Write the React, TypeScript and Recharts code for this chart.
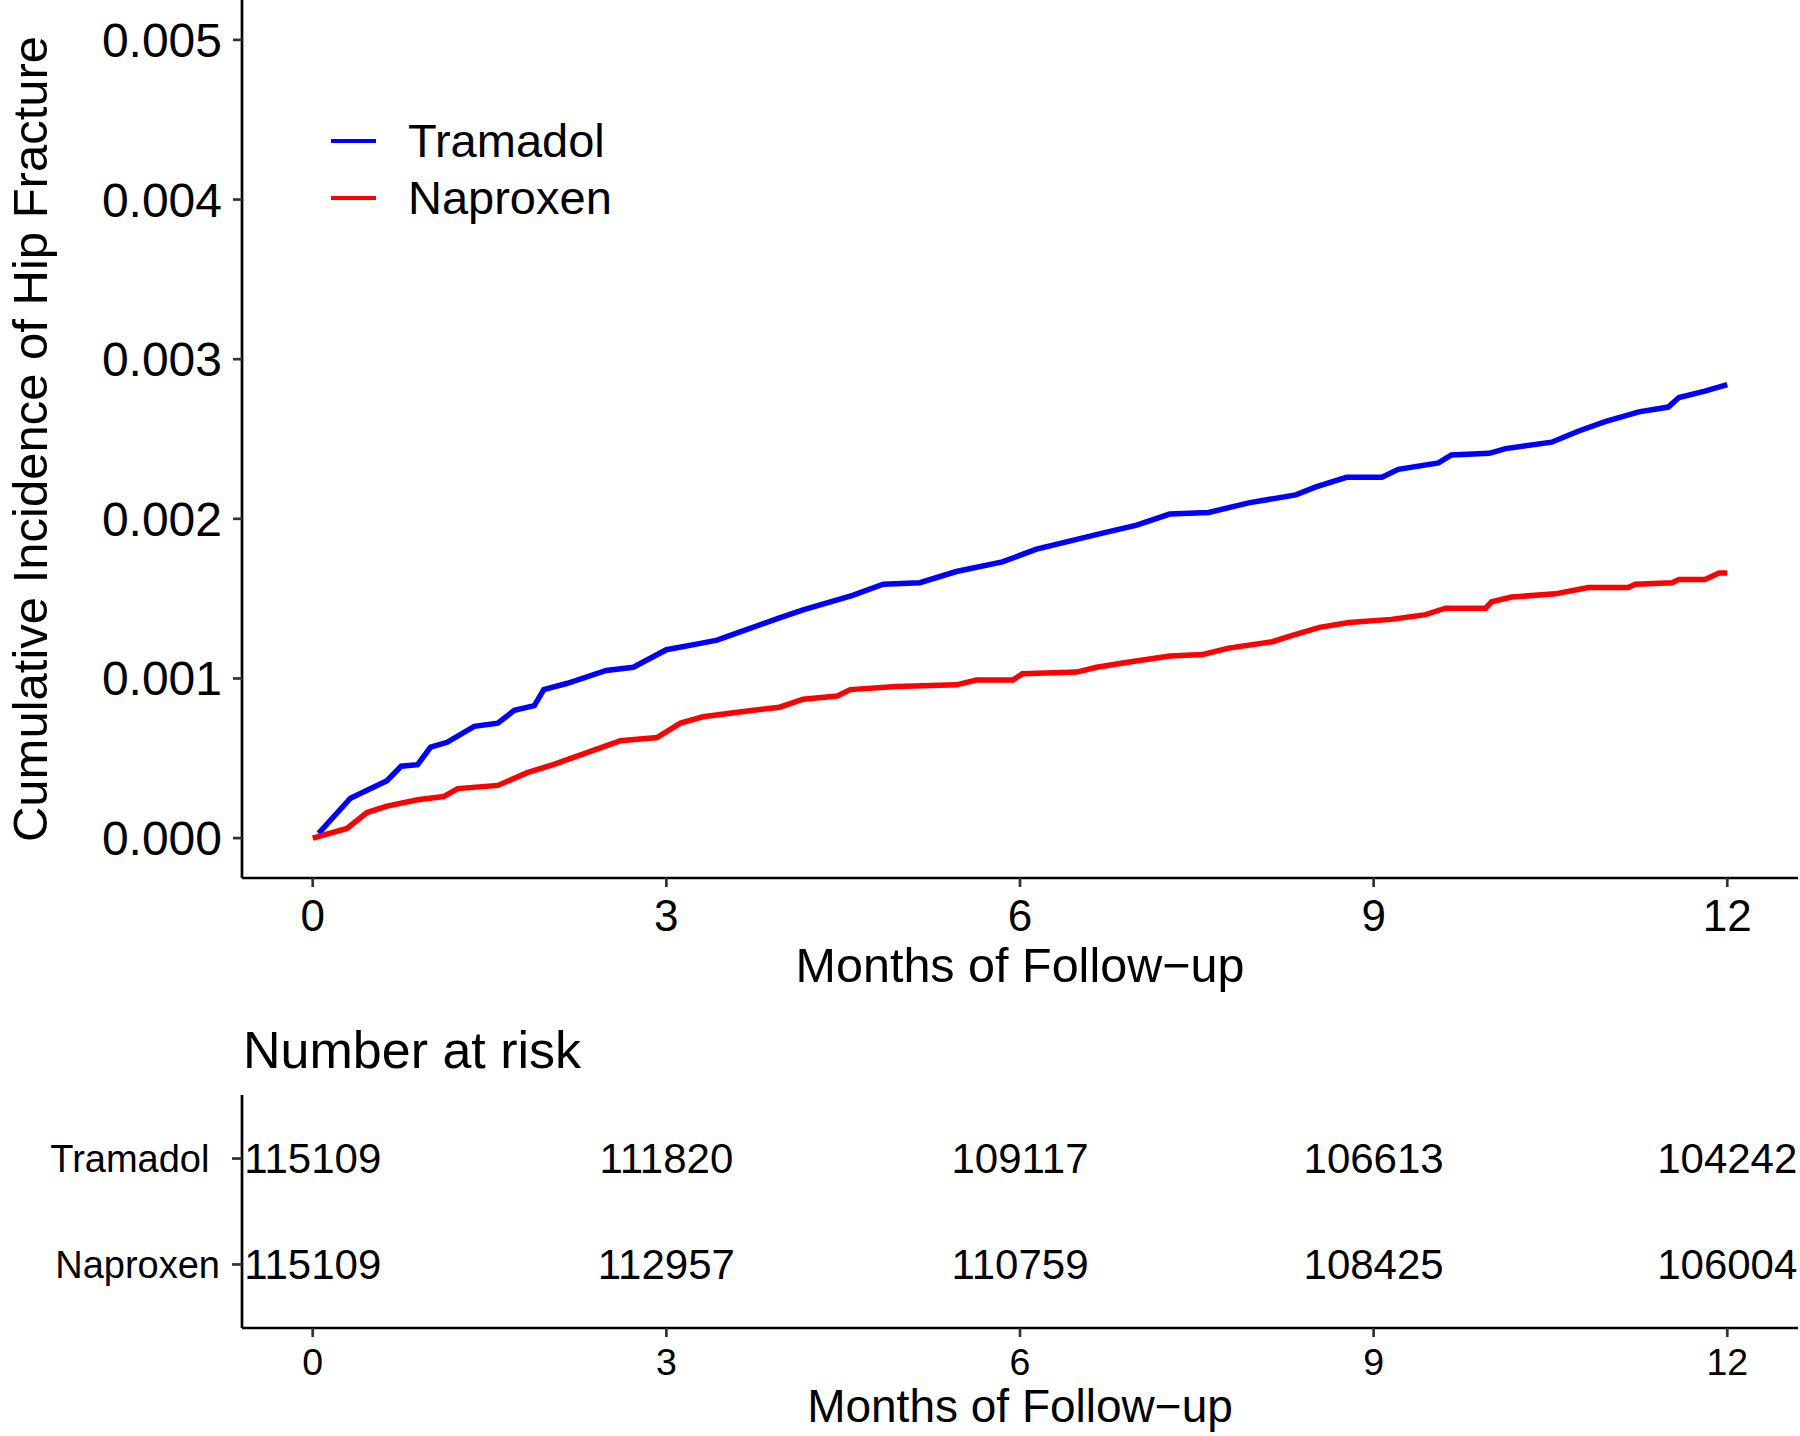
import React from "react"
import { LineChart, Line, XAxis, YAxis, Legend, ScatterChart, Scatter } from "recharts"

const FONT = '"Liberation Sans", Arial, Helvetica, sans-serif'

const monthTicks = [0, 3, 6, 9, 12]
const incidenceTicks = [0, 0.001, 0.002, 0.003, 0.004, 0.005]
const seriesOrder = ["Tramadol", "Naproxen"]

// cumulative incidence
const tramadolMonths = [
  0.05, 0.32, 0.63, 0.75, 0.89, 1.0, 1.14, 1.37, 1.57, 1.71, 1.88, 1.96, 2.16, 2.49, 2.72, 3.0, 3.29, 3.43, 3.62,
  3.96, 4.16, 4.58, 4.84, 5.15, 5.46, 5.85, 6.14, 6.42, 6.7, 6.99, 7.27, 7.6, 7.94, 8.34, 8.51, 8.77, 9.07, 9.21,
  9.55, 9.66, 9.98, 10.12, 10.51, 10.74, 10.97, 11.25, 11.5, 11.59, 11.81, 12.0,
]
const tramadolIncidence = [
  0.00003, 0.00025, 0.00036, 0.00045, 0.00046, 0.00057, 0.0006, 0.0007, 0.00072, 0.0008, 0.00083, 0.00093,
  0.00097, 0.00105, 0.00107, 0.00118, 0.00122, 0.00124, 0.00129, 0.00138, 0.00143, 0.00152, 0.00159, 0.0016,
  0.00167, 0.00173, 0.00181, 0.00186, 0.00191, 0.00196, 0.00203, 0.00204, 0.0021, 0.00215, 0.0022, 0.00226,
  0.00226, 0.00231, 0.00235, 0.0024, 0.00241, 0.00244, 0.00248, 0.00255, 0.00261, 0.00267, 0.0027, 0.00276,
  0.0028, 0.00284,
]

const naproxenMonths = [
  0, 0.29, 0.46, 0.63, 0.89, 1.11, 1.23, 1.57, 1.82, 2.04, 2.38, 2.61, 2.92, 3.12, 3.31, 3.62, 3.96, 4.16, 4.45,
  4.56, 4.95, 5.46, 5.63, 5.94, 6.02, 6.48, 6.65, 6.9, 7.27, 7.55, 7.77, 8.14, 8.31, 8.54, 8.79, 9.15, 9.44, 9.61,
  9.95, 10.0, 10.17, 10.54, 10.82, 11.16, 11.22, 11.53, 11.59, 11.81, 11.93, 12.0,
]
const naproxenIncidence = [
  0, 0.00006, 0.00016, 0.0002, 0.00024, 0.00026, 0.00031, 0.00033, 0.00041, 0.00046, 0.00055, 0.00061, 0.00063,
  0.00072, 0.00076, 0.00079, 0.00082, 0.00087, 0.00089, 0.00093, 0.00095, 0.00096, 0.00099, 0.00099, 0.00103,
  0.00104, 0.00107, 0.0011, 0.00114, 0.00115, 0.00119, 0.00123, 0.00127, 0.00132, 0.00135, 0.00137, 0.0014,
  0.00144, 0.00144, 0.00148, 0.00151, 0.00153, 0.00157, 0.00157, 0.00159, 0.0016, 0.00162, 0.00162, 0.00166,
  0.00166,
]

// number at risk table
const riskMonths = [0, 3, 6, 9, 12]
const tramadolAtRisk = [115109, 111820, 109117, 106613, 104242]
const naproxenAtRisk = [115109, 112957, 110759, 108425, 106004]
const groupNames = ["Naproxen", "Tramadol\u00A0"] // row 1, row 2 (top)

const tramadolData = tramadolMonths.map((m, i) => ({ month: m, value: tramadolIncidence[i] }))
const naproxenData = naproxenMonths.map((m, i) => ({ month: m, value: naproxenIncidence[i] }))
const tramadolRisk = riskMonths.map((m, i) => ({ month: m, row: 2, n: tramadolAtRisk[i] }))
const naproxenRisk = riskMonths.map((m, i) => ({ month: m, row: 1, n: naproxenAtRisk[i] }))

const axisLine = { stroke: "#000", strokeWidth: 2.7 }
const tickLine = { stroke: "#333", strokeWidth: 2.7 }

const YTitle = (props: any) => {
  const vb = props.viewBox
  return (
    <text
      transform={`translate(${vb.x + 47}, ${vb.y + vb.height / 2}) rotate(-90)`}
      textAnchor="middle"
      fontSize={49}
      fontFamily={FONT}
      fill="#000"
    >
      Cumulative Incidence of Hip Fracture
    </text>
  )
}

const XTitle = (props: any) => {
  const vb = props.viewBox
  const dy = props.dy ?? 104
  const size = props.size ?? 48.5
  return (
    <text x={vb.x + vb.width / 2} y={vb.y + dy} textAnchor="middle" fontSize={size} fontFamily={FONT} fill="#000">
      Months of Follow−up
    </text>
  )
}

const renderLegend = (props: any) => {
  const items = [...(props.payload || [])].sort(
    (a: any, b: any) => seriesOrder.indexOf(a.value) - seriesOrder.indexOf(b.value)
  )
  return (
    <div>
      {items.map((entry: any) => (
        <div key={entry.value} style={{ display: "flex", alignItems: "center", height: 57 }}>
          <span style={{ display: "inline-block", width: 45, height: 4, background: entry.color, marginRight: 32 }} />
          <span style={{ fontSize: 47, fontFamily: FONT, color: "#000", lineHeight: "57px", whiteSpace: "nowrap" }}>
            {entry.value}
          </span>
        </div>
      ))}
    </div>
  )
}

const RiskText = (props: any) => (
  <text
    x={props.cx}
    y={props.cy}
    textAnchor="middle"
    dominantBaseline="central"
    fontSize={42}
    fontFamily={FONT}
    fill="#000"
  >
    {props.payload.n}
  </text>
)

export default function App() {
  return (
    <div style={{ position: "absolute", left: 0, top: 0, width: 1800, height: 1436, background: "#fff" }}>
      <div style={{ position: "absolute", left: 0, top: 0 }}>
        <LineChart width={1800} height={1000} margin={{ top: 0, right: 2, bottom: 0, left: 0 }}>
          <XAxis
            type="number"
            dataKey="month"
            domain={[-0.6, 12.6]}
            ticks={monthTicks}
            allowDataOverflow
            height={122}
            tickSize={9}
            tickMargin={13}
            axisLine={axisLine}
            tickLine={tickLine}
            tick={{ fill: "#000", fontSize: 44, fontFamily: FONT }}
            label={<XTitle />}
          />
          <YAxis
            type="number"
            dataKey="value"
            domain={[-0.00025, 0.00525]}
            ticks={incidenceTicks}
            allowDataOverflow
            width={242}
            tickSize={9}
            tickMargin={11}
            tickFormatter={(v: number) => v.toFixed(3)}
            axisLine={axisLine}
            tickLine={tickLine}
            tick={{ fill: "#000", fontSize: 48, fontFamily: FONT }}
            label={<YTitle />}
          />
          <Legend
            layout="vertical"
            verticalAlign="middle"
            align="center"
            wrapperStyle={{ left: 331, top: 112, width: "auto", height: "auto" }}
            content={renderLegend}
          />
          <Line
            data={tramadolData}
            dataKey="value"
            name="Tramadol"
            type="linear"
            stroke="#0000FF"
            strokeWidth={5.5}
            dot={false}
            isAnimationActive={false}
          />
          <Line
            data={naproxenData}
            dataKey="value"
            name="Naproxen"
            type="linear"
            stroke="#FF0000"
            strokeWidth={5.5}
            dot={false}
            isAnimationActive={false}
          />
        </LineChart>
      </div>

      <div
        style={{
          position: "absolute",
          left: 243,
          top: 1020,
          fontSize: 52,
          lineHeight: "60px",
          fontFamily: FONT,
          color: "#000",
          whiteSpace: "nowrap",
        }}
      >
        Number at risk
      </div>

      <div style={{ position: "absolute", left: 0, top: 1000 }}>
        <ScatterChart width={1800} height={436} margin={{ top: 95, right: 2, bottom: 0, left: 0 }}>
          <XAxis
            type="number"
            dataKey="month"
            domain={[-0.6, 12.6]}
            ticks={monthTicks}
            allowDataOverflow
            height={108}
            tickSize={9}
            tickMargin={11}
            axisLine={axisLine}
            tickLine={tickLine}
            tick={{ fill: "#000", fontSize: 37.5, fontFamily: FONT }}
            label={<XTitle dy={94} size={46} />}
          />
          <YAxis
            type="number"
            dataKey="row"
            domain={[0.4, 2.6]}
            ticks={[1, 2]}
            width={242}
            tickSize={10}
            tickMargin={12}
            tickFormatter={(v: number) => groupNames[v - 1]}
            axisLine={axisLine}
            tickLine={tickLine}
            tick={{ fill: "#000", fontSize: 38, fontFamily: FONT }}
          />
          <Scatter data={tramadolRisk} shape={RiskText} isAnimationActive={false} />
          <Scatter data={naproxenRisk} shape={RiskText} isAnimationActive={false} />
        </ScatterChart>
      </div>
    </div>
  )
}
